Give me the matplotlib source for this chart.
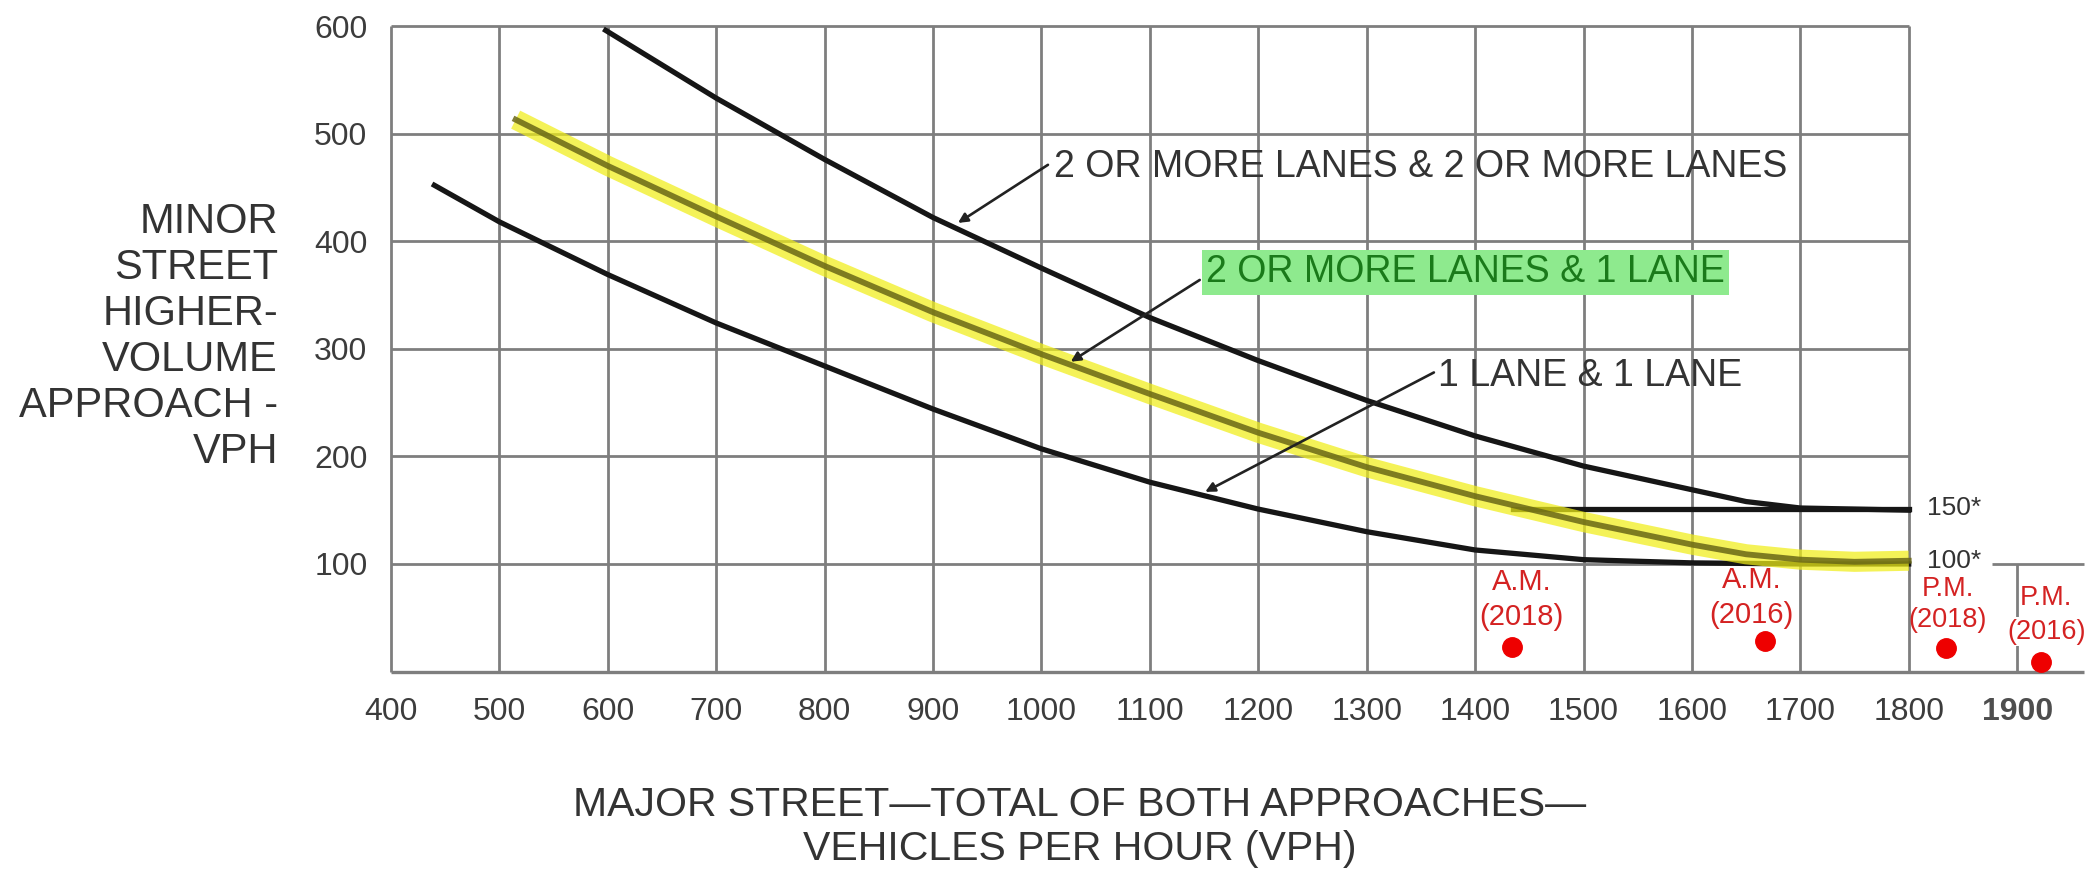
import numpy as np
import matplotlib.pyplot as plt

plt.rcParams['font.family'] = ['Liberation Sans', 'DejaVu Sans']

# axis ticks
x_ticks = [400, 500, 600, 700, 800, 900, 1000, 1100, 1200, 1300, 1400, 1500, 1600, 1700, 1800, 1900]
x_labels = [str(v) for v in x_ticks]
y_ticks = [100, 200, 300, 400, 500, 600]
y_labels = [str(v) for v in y_ticks]

# 2 OR MORE LANES & 2 OR MORE LANES
x_2x2 = [598, 700, 800, 900, 1000, 1100, 1200, 1300, 1400, 1500, 1600, 1650, 1700, 1750, 1800]
y_2x2 = [596, 533, 476, 422, 375, 329, 289, 252, 219, 191, 169, 158, 152, 151, 150]

# 150* lower threshold
x_150 = [1435, 1800]
y_150 = [151, 151]

# 2 OR MORE LANES & 1 LANE (highlighted)
x_2x1 = [515, 600, 700, 800, 900, 1000, 1100, 1200, 1300, 1400, 1500, 1600, 1650, 1700, 1750, 1800]
y_2x1 = [513, 470, 423, 377, 334, 295, 258, 222, 190, 163, 139, 118, 109, 104, 102, 103]

# 1 LANE & 1 LANE
x_1x1 = [440, 500, 600, 700, 800, 900, 1000, 1100, 1200, 1300, 1400, 1500, 1600, 1700, 1800]
y_1x1 = [452, 418, 369, 324, 284, 244, 207, 176, 151, 130, 113, 104, 101, 100, 100]

# observed counts
obs_x = [1434, 1667, 1834, 1922]
obs_y = [23, 28, 22, 9]
obs_period = ['A.M.', 'A.M.', 'P.M.', 'P.M.']
obs_year = ['(2018)', '(2016)', '(2018)', '(2016)']
lbl_x = [1443, 1655, 1836, 1927]
lbl_y1 = [83, 85, 77, 68]
lbl_y2 = [51, 53, 48, 37]
lbl_size = [21, 21, 19.5, 19.5]

ylabel_lines = ['MINOR', 'STREET', 'HIGHER-', 'VOLUME', 'APPROACH -', 'VPH']
xlabel_lines = ['MAJOR STREET\u2014TOTAL OF BOTH APPROACHES\u2014', 'VEHICLES PER HOUR (VPH)']

txt = '#333333'
gc = '#7e7e7e'
glw = 2.0
blk = '#161616'

fig = plt.figure(figsize=(20.92, 8.71), dpi=100)
ax = fig.add_axes([0.1869, 0.2290, 0.8110, 0.7411])
ax.set_xlim(400, 1965)
ax.set_ylim(0, 600)
for s in ax.spines.values():
    s.set_visible(False)

# grid
ax.vlines(x_ticks[:-1], 0, 600, color=gc, lw=glw, clip_on=False, zorder=1)
ax.hlines(y_ticks, 400, 1800, color=gc, lw=glw, clip_on=False, zorder=1)
ax.hlines(0, 400, 1962, color=gc, lw=glw + 0.4, clip_on=False, zorder=1)
ax.hlines(100, 1877, 1962, color=gc, lw=glw, clip_on=False, zorder=1)
ax.vlines(1900, 0, 100, color=gc, lw=glw, clip_on=False, zorder=1)

# curves
ax.plot(x_2x2, y_2x2, color=blk, lw=3.8, zorder=3, solid_joinstyle='round')
ax.plot(x_150, y_150, color=blk, lw=3.8, zorder=3)
ax.plot(x_1x1, y_1x1, color=blk, lw=3.8, zorder=3, solid_joinstyle='round')
# highlighter band and the dark curve seen through it
ax.plot(x_2x1, y_2x1, color='#f0ee18', alpha=0.72, lw=14.5, zorder=4,
        solid_capstyle='butt', solid_joinstyle='round')
ax.plot(x_2x1, y_2x1, color='#6a6816', lw=4.2, zorder=4, alpha=0.85,
        solid_joinstyle='round')

# curve labels
ax.text(1012, 469, '2 OR MORE LANES & 2 OR MORE LANES', fontsize=27, color=txt,
        va='center', zorder=5)
ax.text(1152, 371, '2 OR MORE LANES & 1 LANE', fontsize=27, color='#1a7a1a',
        va='center', zorder=5,
        bbox=dict(boxstyle='square,pad=0.12', fc='#8eea8e', ec='none'))
ax.text(1366, 275, '1 LANE & 1 LANE', fontsize=27, color=txt, va='center', zorder=5)

arrow = dict(arrowstyle='-|>', color='#222222', lw=1.9, mutation_scale=14,
             shrinkA=0, shrinkB=0)
ax.annotate('', xy=(923, 417), xytext=(1006, 471), arrowprops=arrow, zorder=5)
ax.annotate('', xy=(1027, 288), xytext=(1146, 364), arrowprops=arrow, zorder=5)
ax.annotate('', xy=(1151, 167), xytext=(1362, 278), arrowprops=arrow, zorder=5)

# thresholds
ax.text(1817, 152, '150*', fontsize=19, color=txt, va='center')
ax.text(1817, 103, '100*', fontsize=19, color=txt, va='center')

# observed volumes
ax.plot(obs_x, obs_y, 'o', color='#ee0000', ms=14, zorder=6, clip_on=False)
for i in range(len(obs_x)):
    ax.text(lbl_x[i], lbl_y1[i], obs_period[i], fontsize=lbl_size[i], color='#d42222',
            ha='center', va='center', zorder=6)
    ax.text(lbl_x[i], lbl_y2[i], obs_year[i], fontsize=lbl_size[i], color='#d42222',
            ha='center', va='center', zorder=6,
            bbox=dict(boxstyle='square,pad=0.05', fc='white', ec='none') if i == 3 else None)

# ticks
ax.set_xticks(x_ticks)
ax.set_xticklabels(x_labels, fontsize=23, color='#3c3c3c')
ax.set_yticks(y_ticks)
ax.set_yticklabels(y_labels, fontsize=23, color='#3c3c3c')
ax.tick_params(axis='both', length=0)
ax.tick_params(axis='x', pad=18)
ax.tick_params(axis='y', pad=17)
lbl = ax.get_xticklabels()[-1]
lbl.set_fontweight('bold')
lbl.set_color('#4e4e4e')

# axis titles
for i, s in enumerate(ylabel_lines):
    fig.text(0.1329, 1 - (222 + 46 * i) / 871, s, fontsize=30, color=txt,
             ha='right', va='center')
for i, s in enumerate(xlabel_lines):
    fig.text(0.516, 1 - (816 + 44 * i) / 871, s, fontsize=29.5, color=txt,
             ha='center', va='baseline')

fig.savefig('out.png', dpi=100)
